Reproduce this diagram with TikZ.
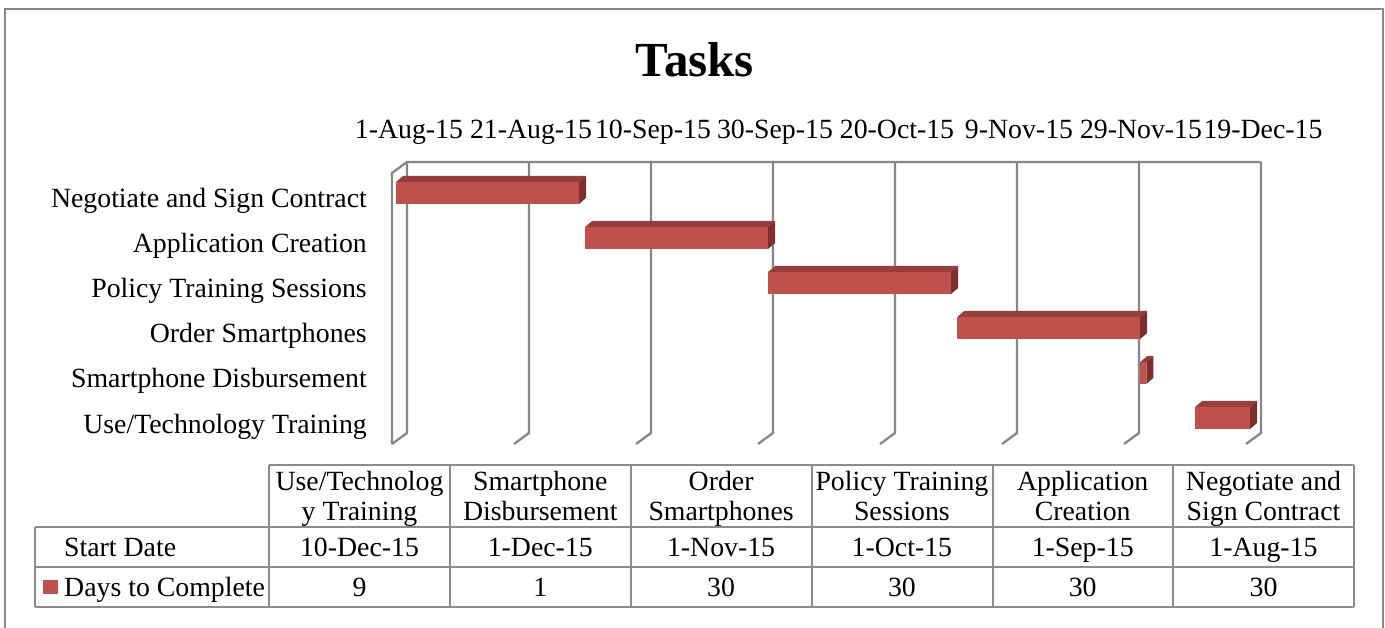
\documentclass[tikz,border=0pt]{standalone}
\usepackage{fontspec}
\setmainfont{Liberation Serif}
\definecolor{barfront}{HTML}{C0504D}
\definecolor{bartop}{HTML}{953E3B}
\definecolor{barside}{HTML}{7E2F2C}
\definecolor{gridgray}{HTML}{878787}
\definecolor{tablegray}{HTML}{8C8C8C}
\begin{document}
\begin{tikzpicture}[x=1pt,y=-1pt,
  lbl/.style={font=\fontsize{27.8}{30}\selectfont, inner sep=0pt},
  gridline/.style={draw=gridgray, line width=2.3pt, line join=miter},
  tableline/.style={draw=tablegray, line width=2pt},
  framebox/.style={draw=gridgray, line width=2.5pt}]
\useasboundingbox (0,0) rectangle (1385,628);
% outer frame
\draw[framebox] (5,640) -- (5,9) -- (1383,9) -- (1383,640);
% title
\node[font=\fontsize{49}{54}\selectfont\bfseries, anchor=base, inner sep=0pt] (title) at (695,77) {Tasks};
% grid (3D back wall)
\draw[gridline] (392,444) -- (392,173) -- (407,162) -- (1261,162);
\foreach \k in {0,...,7} {
  \draw[gridline] ({407+122*\k},162) -- ({407+122*\k},433) -- ({392+122*\k},444);
}
% date labels
\foreach \lab [count=\i from 0] in {1-Aug-15,21-Aug-15,10-Sep-15,30-Sep-15,20-Oct-15,9-Nov-15,29-Nov-15,19-Dec-15}
  \node[lbl, anchor=base] (d\i) at ({409+122*\i},139) {\lab};
% row labels
\foreach \lab [count=\i from 0] in {Negotiate and Sign Contract,Application Creation,Policy Training Sessions,Order Smartphones,Smartphone Disbursement,Use/Technology Training}
  \node[lbl, anchor=base east] (r\i) at (367,{208+45*\i}) {\lab};
% bars
\foreach \s/\d/\r in {0/30/0, 31/30/1, 61/30/2, 92/30/3, 122/1/4, 131/9/5} {
  \pgfmathsetmacro\xa{396+6.1*\s}
  \pgfmathsetmacro\xb{\xa+6.1*\d}
  \pgfmathsetmacro\yt{182+45*\r}
  \fill[barfront] (\xa,\yt) rectangle (\xb,\yt+22);
  \fill[bartop] (\xa,\yt) -- (\xa+7,\yt-6) -- (\xb+7,\yt-6) -- (\xb,\yt) -- cycle;
  \fill[barside] (\xb,\yt) -- (\xb+7,\yt-6) -- (\xb+7,\yt+16) -- (\xb,\yt+22) -- cycle;
}
% data table
\draw[tableline] (269,465) -- (1354,465);
\draw[tableline] (35,527) -- (1354,527);
\draw[tableline] (35,567) -- (1354,567);
\draw[tableline] (35,607) -- (1354,607);
\draw[tableline] (35,527) -- (35,607);
\foreach \xx in {269,450,631,812,993,1173,1354}
  \draw[tableline] (\xx,465) -- (\xx,607);
% header texts
\foreach \la/\lb [count=\i from 0] in {{Use/Technolog}/{y Training}, {Smartphone}/{Disbursement}, {Order}/{Smartphones}, {Policy Training}/{Sessions}, {Application}/{Creation}, {Negotiate and}/{Sign Contract}} {
  \node[lbl, anchor=base] (ha\i) at ({359.5+180.8*\i},490) {\la};
  \node[lbl, anchor=base] (hb\i) at ({359.5+180.8*\i},520) {\lb};
}
\foreach \v [count=\i from 0] in {10-Dec-15,1-Dec-15,1-Nov-15,1-Oct-15,1-Sep-15,1-Aug-15}
  \node[lbl, anchor=base] (sd\i) at ({359.5+180.8*\i},556) {\v};
\foreach \v [count=\i from 0] in {9,1,30,30,30,30}
  \node[lbl, anchor=base] (dc\i) at ({359.5+180.8*\i},596) {\v};
\node[lbl, anchor=base west] (startlbl) at (64,556) {Start Date};
\fill[barfront] (43,580) rectangle (58,594);
\node[lbl, anchor=base west] (dayslbl) at (64,596) {Days to Complete};
\end{tikzpicture}
\end{document}
